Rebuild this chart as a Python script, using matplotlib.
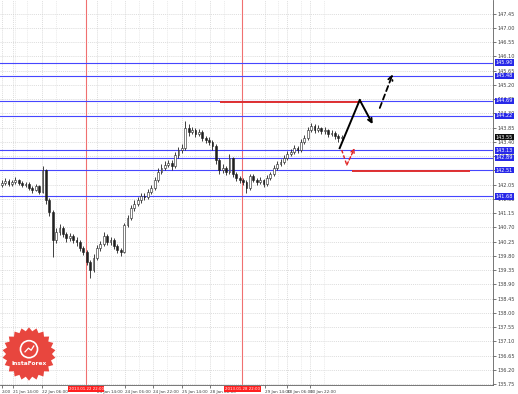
import numpy as np
import matplotlib
matplotlib.use("Agg")
import matplotlib.pyplot as plt
from matplotlib.patches import Polygon, Circle

# ---------------- data ----------------
first_open = 142.05
closes = [142.10, 142.16, 142.07, 142.13, 142.19, 142.10, 142.03, 142.07, 141.94, 141.88,
          142.00, 141.81, 142.51, 141.56, 141.18, 140.30, 140.55, 140.68, 140.49, 140.36,
          140.42, 140.30, 140.23, 140.04, 139.92, 139.60, 139.35, 139.73, 140.04, 140.17,
          140.42, 140.23, 140.30, 140.11, 139.98, 139.92, 140.77, 140.99, 141.31, 141.43,
          141.56, 141.69, 141.66, 141.81, 141.94, 142.19, 142.45, 142.57, 142.67, 142.73,
          142.63, 142.98, 143.14, 143.20, 143.83, 143.71, 143.77, 143.65, 143.71, 143.52,
          143.46, 143.39, 143.27, 142.82, 142.51, 142.57, 142.45, 142.89, 142.38, 142.26,
          142.19, 142.13, 141.94, 142.32, 142.19, 142.13, 142.19, 142.07, 142.26, 142.38,
          142.57, 142.70, 142.76, 142.89, 143.01, 143.08, 143.20, 143.14, 143.39, 143.52,
          143.77, 143.90, 143.77, 143.83, 143.74, 143.77, 143.65, 143.68, 143.58, 143.52,
          143.55]
highs = [142.18, 142.25, 142.22, 142.20, 142.28, 142.24, 142.15, 142.14, 142.12, 142.00,
         142.08, 142.05, 142.63, 142.55, 141.62, 141.25, 140.68, 140.80, 140.74, 140.55,
         140.52, 140.48, 140.38, 140.30, 140.10, 139.98, 139.68, 139.85, 140.15, 140.28,
         140.55, 140.50, 140.40, 140.36, 140.18, 140.06, 140.85, 141.10, 141.42, 141.55,
         141.66, 141.80, 141.78, 141.92, 142.05, 142.30, 142.56, 142.70, 142.80, 142.84,
         142.82, 143.08, 143.25, 143.33, 144.05, 143.95, 143.88, 143.84, 143.82, 143.76,
         143.60, 143.55, 143.46, 143.32, 142.90, 142.70, 142.64, 143.03, 142.93, 142.44,
         142.32, 142.26, 142.20, 142.40, 142.38, 142.27, 142.28, 142.24, 142.34, 142.46,
         142.66, 142.80, 142.86, 142.98, 143.12, 143.18, 143.30, 143.28, 143.48, 143.62,
         143.86, 144.00, 143.95, 143.92, 143.88, 143.86, 143.82, 143.78, 143.74, 143.64,
         143.62]
lows = [141.98, 142.04, 142.00, 142.02, 142.08, 142.04, 141.96, 141.97, 141.88, 141.80,
        141.84, 141.74, 141.78, 141.45, 141.05, 139.75, 140.20, 140.45, 140.40, 140.25,
        140.28, 140.20, 140.12, 139.96, 139.82, 139.50, 139.10, 139.28, 139.66, 139.95,
        140.10, 140.14, 140.15, 140.02, 139.88, 139.80, 139.88, 140.70, 140.92, 141.22,
        141.36, 141.48, 141.55, 141.60, 141.75, 141.88, 142.12, 142.38, 142.50, 142.60,
        142.52, 142.58, 142.90, 143.05, 143.15, 143.60, 143.64, 143.55, 143.58, 143.44,
        143.36, 143.30, 143.15, 142.70, 142.38, 142.42, 142.35, 142.40, 142.30, 142.16,
        142.10, 142.04, 141.80, 141.88, 142.12, 142.05, 142.06, 141.98, 142.02, 142.20,
        142.32, 142.50, 142.64, 142.70, 142.82, 142.95, 143.02, 143.05, 143.08, 143.32,
        143.46, 143.70, 143.68, 143.70, 143.64, 143.66, 143.56, 143.58, 143.50, 143.40,
        143.45]

price_ticks = [135.75, 136.20, 136.65, 137.10, 137.55, 138.00, 138.45, 138.90, 139.35,
               139.80, 140.25, 140.70, 141.15, 141.60, 142.05, 142.50, 142.95, 143.40,
               143.85, 144.30, 144.75, 145.20, 145.65, 146.10, 146.55, 147.00, 147.45]

time_labels = ["2:00", "21 Jan 14:00", "22 Jan 06:00", "23 Jan 14:00", "24 Jan 06:00",
               "24 Jan 22:00", "25 Jan 14:00", "28 Jan 06:00", "29 Jan 14:00",
               "30 Jan 06:00", "30 Jan 22:00"]
time_label_bars = [0.0, 3.3, 11.9, 28.0, 36.3, 44.5, 53.0, 61.3, 77.4, 83.9, 90.7]

vline_bars = [24.8, 70.7]
vline_labels = ["2013.01.22 22:00", "2013.01.28 22:00"]

blue_levels = [145.90, 145.48, 144.69, 144.22, 143.13, 142.89, 142.51, 141.68]
red_levels = [144.66, 142.48]
red_level_start = [64.1, 103.0]
red_level_end = [105.9, 137.6]

current_price = 143.55

# forecast paths
black_solid_x = [99.4, 105.3, 109.1]
black_solid_y = [143.20, 144.72, 143.96]
black_dash_x = [111.2, 115.0]
black_dash_y = [144.47, 145.54]
red_dash_x = [100.0, 101.5, 103.8]
red_dash_y = [143.14, 142.67, 143.20]

# ---------------- figure ----------------
W, H = 518, 394
fig = plt.figure(figsize=(W / 100, H / 100), dpi=100)
fig.patch.set_facecolor("white")
ax = fig.add_axes([0.0, 9 / H, 493 / W, 385 / H])
ax.set_facecolor("white")

n = len(closes)
xs = np.arange(n)
opens = [first_open] + closes[:-1]

ax.set_xlim(-0.5, 144.5)
ax.set_ylim(135.72, 147.88)

# grid
for p in price_ticks:
    ax.axhline(p, color="#d0d0d0", lw=0.5, ls=(0, (1.5, 1.5)), zorder=0)
for b in time_label_bars + vline_bars:
    ax.axvline(b, color="#d0d0d0", lw=0.5, ls=(0, (1.5, 1.5)), zorder=0)
for b in [b + 4 for b in time_label_bars]:
    ax.axvline(b, color="#e2e2e2", lw=0.5, ls=(0, (1.5, 1.5)), zorder=0)

# vertical red lines
for b in vline_bars:
    ax.axvline(b, color="#f07070", lw=0.8, zorder=1)

# blue levels
for p in blue_levels:
    ax.axhline(p, color="#4646ff", lw=0.8, zorder=2)

# red levels
for p, s, e in zip(red_levels, red_level_start, red_level_end):
    ax.hlines(p, s, e, color="#e03030", lw=1.4, zorder=3)

# candles
ax.vlines(xs, lows, highs, color="#202020", lw=0.6, zorder=4)
for x, o, c in zip(xs, opens, closes):
    bot = min(o, c)
    h = max(abs(c - o), 0.015)
    fc = "white" if c >= o else "#202020"
    ax.bar(x, h, bottom=bot, width=0.5, color=fc, edgecolor="#202020",
           linewidth=0.4, zorder=5)

# forecast
ax.plot(black_solid_x[:-1], black_solid_y[:-1], color="black", lw=1.4, zorder=6)
ax.annotate("", xy=(black_solid_x[-1], black_solid_y[-1]),
            xytext=(black_solid_x[-2], black_solid_y[-2]),
            arrowprops=dict(arrowstyle="->", color="black", lw=1.4,
                            shrinkA=0, shrinkB=0, mutation_scale=7), zorder=6)
ax.annotate("", xy=(black_dash_x[1], black_dash_y[1]),
            xytext=(black_dash_x[0], black_dash_y[0]),
            arrowprops=dict(arrowstyle="->", color="black", lw=1.3, ls=(0, (3, 2)),
                            shrinkA=0, shrinkB=0, mutation_scale=8), zorder=6)
ax.plot(red_dash_x[:-1], red_dash_y[:-1], color="#e02020", lw=1.0,
        ls=(0, (2.5, 1.5)), zorder=6)
ax.annotate("", xy=(red_dash_x[-1], red_dash_y[-1]),
            xytext=(red_dash_x[-2], red_dash_y[-2]),
            arrowprops=dict(arrowstyle="->", color="#e02020", lw=1.0, ls=(0, (2.5, 1.5)),
                            shrinkA=0, shrinkB=0, mutation_scale=6), zorder=6)

# axes styling
for s in ["top", "left"]:
    ax.spines[s].set_visible(False)
ax.spines["right"].set_color("#606060")
ax.spines["bottom"].set_color("#606060")
ax.spines["right"].set_linewidth(0.6)
ax.spines["bottom"].set_linewidth(0.6)
ax.yaxis.tick_right()
ax.set_yticks(price_ticks)
ax.set_yticklabels([f"{p:.2f}" for p in price_ticks], fontsize=3.6, color="#404040")
ax.tick_params(axis="y", length=2, width=0.5, pad=1.5, colors="#404040")
ax.set_xticks(time_label_bars)
ax.set_xticklabels(time_labels, fontsize=3.0, color="#404040", ha="left")
ax.tick_params(axis="x", length=2, width=0.5, pad=1.5, colors="#404040")

ytr = ax.get_yaxis_transform()
for p in blue_levels:
    ax.text(1.006, p, f"{p:.2f}", transform=ytr, fontsize=3.6, color="white",
            va="center", ha="left",
            bbox=dict(boxstyle="square,pad=0.15", fc="#2828e8", ec="none"), clip_on=False)
ax.text(1.006, current_price, f"{current_price:.2f}", transform=ytr, fontsize=3.6,
        color="white", va="center", ha="left",
        bbox=dict(boxstyle="square,pad=0.15", fc="#101010", ec="none"), clip_on=False)

xtr = ax.get_xaxis_transform()
for b, lab in zip(vline_bars, vline_labels):
    ax.text(b, -0.006, lab, transform=xtr, fontsize=2.8, color="white",
            va="top", ha="center",
            bbox=dict(boxstyle="square,pad=0.25", fc="#ff2020", ec="none"), clip_on=False)

# logo
lax = fig.add_axes([1 / W, (394 - 354 - 28) / H, 56 / W, 56 / H])
lax.set_xlim(-1.05, 1.05)
lax.set_ylim(-1.05, 1.05)
lax.set_aspect("equal")
lax.axis("off")
k = 22
ang = np.linspace(0, 2 * np.pi, 2 * k, endpoint=False) + np.pi / 2
rad = np.where(np.arange(2 * k) % 2 == 0, 1.0, 0.86)
lax.add_patch(Polygon(np.c_[rad * np.cos(ang), rad * np.sin(ang)], closed=True,
                      fc="#e8463e", ec="none"))
lax.add_patch(Circle((0, 0.18), 0.32, fc="none", ec="white", lw=1.2))
lax.plot([-0.15, -0.02, 0.08, 0.18], [0.08, 0.22, 0.14, 0.3], color="white", lw=0.9)
lax.text(0, -0.35, "InstaForex", color="white", fontsize=4.2, fontweight="bold",
         ha="center", va="center")

fig.savefig("out.png", dpi=100, facecolor="white")
